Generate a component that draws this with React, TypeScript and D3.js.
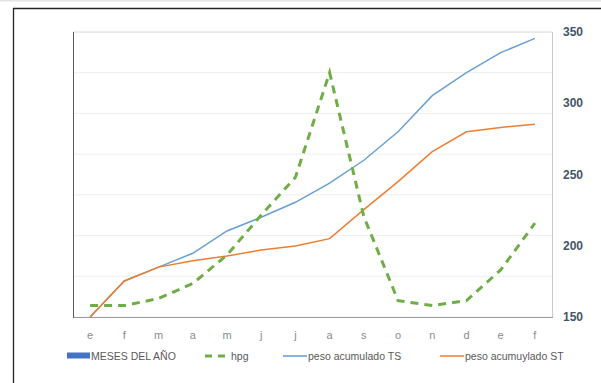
import React from "react";
import * as d3 from "d3";

// Month initials along the category axis (two extra months at the end)
const months = ["e", "f", "m", "a", "m", "j", "j", "a", "s", "o", "n", "d", "e", "f"];

// hpg series (dashed green)
const hpg = [158, 158, 163, 173.5, 193.5, 221.5, 248, 321.5, 220.5, 161.5, 158, 161.5, 183, 215.8];
// peso acumulado TS (blue)
const pesoTS = [150, 175.3, 185, 194.7, 210.4, 220, 230.5, 244, 260, 280, 305.3, 321.5, 335.5, 345.5];
// peso acumuylado ST (orange)
const pesoST = [150, 175.3, 185, 189.5, 192.8, 197, 199.8, 205, 225.4, 245, 266, 280, 283, 285.2];

// Secondary (right) axis ticks
const rightTicks = [150, 200, 250, 300, 350];
// Primary axis only contributes gridlines (its labels are hidden)
const primaryDomain = [0, 7];

const legendItems = [
  { label: "MESES DEL AÑO", kind: "bar", color: "#4472C4" },
  { label: "hpg", kind: "dash", color: "#70AD47" },
  { label: "peso acumulado TS", kind: "line", color: "#5B9BD5" },
  { label: "peso acumuylado ST", kind: "line", color: "#ED7D31" },
];

const W = 601;
const H = 383;
const plot = { left: 73, right: 552, top: 32, bottom: 317 };

export default function App() {
  const idx = months.map((_, i) => i);
  const x = d3
    .scaleBand<number>()
    .domain(idx)
    .range([plot.left, plot.right])
    .paddingInner(0)
    .paddingOuter(0);
  const cx = (i: number) => (x(i) as number) + x.bandwidth() / 2;

  const yRight = d3.scaleLinear().domain([150, 350]).range([plot.bottom, plot.top]);
  const yPrimary = d3.scaleLinear().domain(primaryDomain).range([plot.bottom, plot.top]);
  const gridTicks = yPrimary.ticks(7);

  const line = d3
    .line<number>()
    .x((_, i) => cx(i))
    .y((d) => yRight(d));

  const legendX = [67, 205, 283, 440];
  const legendY = 356;
  const font = "'Liberation Sans', Arial, sans-serif";

  return (
    <svg
      width={W}
      height={H}
      style={{ position: "absolute", left: 0, top: 0, background: "#fff" }}
      fontFamily={font}
    >
      <rect x={0} y={0} width={W} height={1.5} fill="#e4e4e4" />
      {/* outer frame */}
      <line x1={13} x2={W} y1={8.5} y2={8.5} stroke="#222" strokeWidth={1.3} />
      <line x1={13.5} x2={13.5} y1={8} y2={H} stroke="#222" strokeWidth={1.3} />

      {/* gridlines */}
      {gridTicks.map((t) => (
        <line
          key={t}
          x1={plot.left}
          x2={plot.right}
          y1={yPrimary(t)}
          y2={yPrimary(t)}
          stroke={t === primaryDomain[1] ? "#d6d6d6" : "#eeeeee"}
          strokeWidth={1}
        />
      ))}
      {/* plot frame */}
      <line x1={plot.right + 0.5} x2={plot.right + 0.5} y1={plot.top} y2={plot.bottom} stroke="#c8c8c8" />
      <line x1={plot.left} x2={plot.right + 1} y1={plot.bottom + 0.5} y2={plot.bottom + 0.5} stroke="#9a9a9a" />
      <line x1={plot.left + 0.5} x2={plot.left + 0.5} y1={plot.top} y2={plot.bottom + 1} stroke="#595959" />

      {/* series */}
      <path d={line(pesoTS) || ""} fill="none" stroke="#6A9FD2" strokeWidth={1.5} />
      <path d={line(pesoST) || ""} fill="none" stroke="#ED7D31" strokeWidth={1.5} />
      <path
        d={line(hpg) || ""}
        fill="none"
        stroke="#70AD47"
        strokeWidth={3}
        strokeDasharray="8 6"
      />

      {/* right axis labels */}
      {rightTicks.map((t) => (
        <text
          key={t}
          x={563}
          y={yRight(t)}
          dy="0.35em"
          fontSize={12}
          fontWeight="bold"
          fill="#44546A"
        >
          {t}
        </text>
      ))}

      {/* category labels */}
      {months.map((m, i) => (
        <text
          key={i}
          x={cx(i)}
          y={339}
          textAnchor="middle"
          fontSize={11}
          fill="#8a8a8a"
        >
          {m}
        </text>
      ))}

      {/* legend */}
      {legendItems.map((item, i) => {
        const lx = legendX[i];
        let symbol;
        let tx;
        if (item.kind === "bar") {
          symbol = <rect x={lx} y={legendY - 3.5} width={23} height={6} fill={item.color} />;
          tx = lx + 24;
        } else if (item.kind === "dash") {
          symbol = (
            <line
              x1={lx}
              x2={lx + 25}
              y1={legendY}
              y2={legendY}
              stroke={item.color}
              strokeWidth={3}
              strokeDasharray="7 6"
            />
          );
          tx = lx + 26;
        } else {
          symbol = (
            <line x1={lx} x2={lx + 24} y1={legendY} y2={legendY} stroke={item.color} strokeWidth={1.5} />
          );
          tx = lx + 25;
        }
        return (
          <g key={item.label}>
            {symbol}
            <text x={tx} y={legendY} dy="0.35em" fontSize={10.5} fill="#595959">
              {item.label}
            </text>
          </g>
        );
      })}
    </svg>
  );
}
